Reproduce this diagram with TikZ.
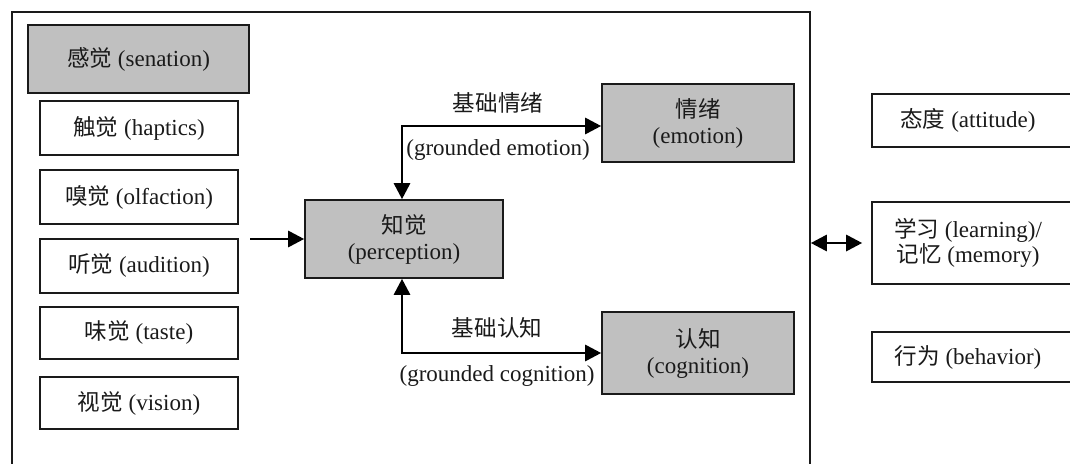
\documentclass[tikz,border=0pt]{standalone}
\usepackage{fontspec}
\setmainfont{Liberation Serif}
\newfontfamily\cjk{Noto Sans CJK SC}[Scale=0.98]
\usetikzlibrary{arrows.meta}
\newcommand\cn[1]{{\cjk #1}}
\definecolor{boxgray}{HTML}{C0C0C0}
\definecolor{ink}{HTML}{1A1A1A}
\tikzset{
  base/.style={draw=ink, line width=1.6pt, rectangle, inner sep=0pt, align=center,
    font=\fontsize{23}{26}\selectfont, text=ink},
  graybox/.style={base, fill=boxgray},
  whitebox/.style={base, fill=white},
  conn/.style={line width=2.8pt, draw=black, -{Triangle[length=16pt,width=16pt]}},
  dconn/.style={line width=2.8pt, draw=black, {Triangle[length=16pt,width=16pt]}-{Triangle[length=16pt,width=16pt]}},
  lbl/.style={font=\fontsize{23}{27}\selectfont, text=ink, inner sep=0pt},
}
\begin{document}
\begin{tikzpicture}[x=1pt,y=-1pt]
\useasboundingbox (0,0) rectangle (1070,463);
\clip (0,0) rectangle (1070,463);
\fill[white] (0,0) rectangle (1070,463);
% outer frame
\node[draw=ink, line width=1.6pt, minimum width=798pt, minimum height=480pt, inner sep=0pt] (frame) at (411,252) {};
% sensation column
\node[graybox, minimum width=221pt, minimum height=68pt] (sens) at (138.5,59) {\cn{感觉} (senation)};
\node[whitebox, minimum width=198pt, minimum height=54pt] (hap) at (139,128) {\cn{触觉} (haptics)};
\node[whitebox, minimum width=198pt, minimum height=54pt] (olf) at (139,197) {\cn{嗅觉} (olfaction)};
\node[whitebox, minimum width=198pt, minimum height=54pt] (aud) at (139,266) {\cn{听觉} (audition)};
\node[whitebox, minimum width=198pt, minimum height=52pt] (tas) at (139,333) {\cn{味觉} (taste)};
\node[whitebox, minimum width=198pt, minimum height=52pt] (vis) at (139,403) {\cn{视觉} (vision)};
% centre
\node[graybox, minimum width=198pt, minimum height=78pt] (perc) at (404,239) {\cn{知觉}\\(perception)};
\node[graybox, minimum width=192pt, minimum height=78pt] (emo) at (698,123) {\cn{情绪}\\(emotion)};
\node[graybox, minimum width=192pt, minimum height=82pt] (cog) at (698,353) {\cn{认知}\\(cognition)};
% right column
\node[whitebox, minimum width=208pt, minimum height=53pt] (att) at (976,120.5) {\cn{态度} (attitude)\hspace*{16pt}};
\node[whitebox, minimum width=208pt, minimum height=82pt] (lrn) at (976,243) {\cn{学习} (learning)/\hspace*{16pt}\\[-1pt]\cn{记忆} (memory)\hspace*{16pt}};
\node[whitebox, minimum width=208pt, minimum height=50pt] (beh) at (976,357) {\cn{行为} (behavior)\hspace*{16pt}};
% labels
\node[lbl] (emozh) at (498,103) {\cn{基础情绪}};
\node[lbl] (emoen) at (498,150) {(grounded emotion)};
\node[lbl] (cogzh) at (497,328) {\cn{基础认知}};
\node[lbl] (cogen) at (497,376) {(grounded cognition)};
% connectors
\coordinate (inStart) at (250,239);
\draw[conn] (inStart) -- (perc.west);
\draw[dconn] ([xshift=-2pt]perc.north) |- ([yshift=-3pt]emo.west);
\draw[dconn] ([xshift=-2pt]perc.south) |- (cog.west);
\draw[dconn] (frame.east |- lrn.west) -- ([xshift=-9pt]lrn.west);
\end{tikzpicture}
\end{document}
